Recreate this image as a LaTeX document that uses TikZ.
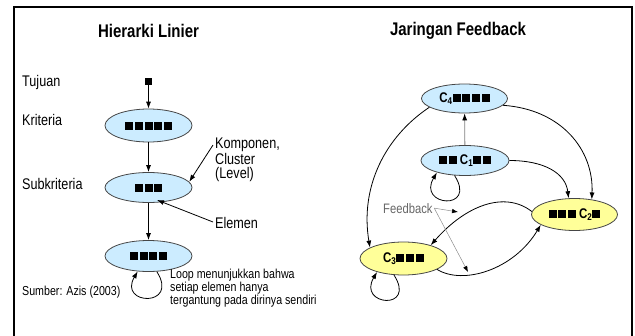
\documentclass[tikz,border=0pt]{standalone}
\usepackage{fontspec}
\setmainfont{Liberation Sans}[FakeStretch=0.82]
\usetikzlibrary{shapes.geometric,arrows.meta}
\definecolor{clusterBlue}{RGB}{204,236,255}
\definecolor{clusterYellow}{RGB}{255,255,153}
\definecolor{outlineGray}{RGB}{70,70,70}
\newcommand{\titleFont}{\fontsize{18.3}{18.3}\selectfont\bfseries}
\newcommand{\labelFont}{\fontsize{15.4}{14}\selectfont}
\newcommand{\noteFont}{\fontsize{13}{10.2}\selectfont}
\newcommand{\feedbackFont}{\fontsize{13.7}{13.7}\selectfont}
\newcommand{\clusterFont}{\fontsize{14}{14}\selectfont\bfseries}
\newcommand{\blk}{\rule{8pt}{8pt}}
\newcommand{\blks}[1]{\blk\foreach \k in {2,...,#1}{\hspace{1.7pt}\blk}}
\tikzset{
  cluster/.style = {ellipse, draw=outlineGray, line width=0.8pt, fill=clusterBlue,
    inner sep=0pt, minimum width=87pt, minimum height=31pt, font=\clusterFont},
  feedbackCluster/.style = {cluster, fill=clusterYellow},
  sideLabel/.style = {anchor=base west, inner sep=0pt, font=\labelFont},
  titleText/.style = {anchor=base, inner sep=0pt, font=\titleFont},
  link/.style = {-{Latex[length=7pt,width=5pt]}, line width=0.8pt},
  grayLink/.style = {-{Latex[length=7pt,width=5pt,color=black]}, draw=black!50, line width=0.8pt},
  pointer/.style = {-{Latex[length=6pt,width=4.5pt,color=black]}, draw=black!45, line width=0.5pt},
}
\newcommand{\selfLoop}[2]{\draw[link] (#1) .. controls +(23,-36) and +(-20,-34) .. (#2);}

\begin{document}
\begin{tikzpicture}[x=1pt, y=1pt]
  \useasboundingbox (0,0) rectangle (635,-335);
  \draw[line width=1.5pt] (14,-337) -- (14,-7) -- (632,-7) -- (632,-337);

  % Hierarki Linier
  \node[titleText] (titleLeft) at (148.5,-37) {Hierarki Linier};
  \node[sideLabel] (tujuanLabel) at (22,-86) {Tujuan};
  \node[sideLabel] (kriteriaLabel) at (22,-125) {Kriteria};
  \node[sideLabel] (subkriteriaLabel) at (22,-189) {Subkriteria};
  \node[sideLabel, font=\noteFont] (sumberLabel) at (22,-295) {Sumber: Azis (2003)};

  \node[fill=black, inner sep=0pt, minimum size=7.5pt] (goal) at (148.5,-81.5) {};
  \node[cluster, minimum height=33pt] (kriteria) at (148.5,-125.5) {\blks{5}};
  \node[cluster, minimum height=30pt] (subkriteria) at (148.5,-187.5) {\blks{3}};
  \node[cluster] (lower) at (148.5,-256) {\blks{4}};

  \draw[link] (goal) -- (kriteria);
  \draw[link] (kriteria) -- (subkriteria);
  \draw[link] (subkriteria) -- (lower);
  \selfLoop{lower.-62}{lower.235}

  \node[sideLabel, align=left] (komponen) at (215,-178) {Komponen,\\Cluster\\(Level)};
  \coordinate (komponenTail) at (213,-145);
  \draw[link] (komponenTail) -- (subkriteria.8);
  \node[sideLabel] (elemen) at (215,-228) {Elemen};
  \coordinate (elemenTail) at (213,-222);
  \coordinate (elemenTip) at (157,-200);
  \draw[link] (elemenTail) -- (elemenTip);
  \node[sideLabel, font=\noteFont, align=left] (loopNote) at (170,-304.5)
    {Loop menunjukkan bahwa\\setiap elemen hanya\\tergantung pada dirinya sendiri};

  % Jaringan Feedback
  \node[titleText] (titleRight) at (458,-35) {Jaringan Feedback};
  \node[cluster, minimum width=86pt, minimum height=29pt] (cfour) at (464.5,-98.5) {C\textsubscript{4}\blks{4}};
  \node[cluster, minimum width=88pt, minimum height=30pt] (cone) at (465,-160.5) {\blks{2} C\textsubscript{1}\blks{2}};
  \node[feedbackCluster, minimum width=86pt, minimum height=32pt] (ctwo) at (574.5,-214.5) {\blks{3} C\textsubscript{2}\blk};
  \node[feedbackCluster, minimum height=33pt] (cthree) at (403.5,-258.5) {C\textsubscript{3}\blks{3}};

  \draw[grayLink] (cone) -- (cfour);
  \draw[link] (cfour.194) .. controls +(-45,-30) and +(-10,60) .. (cthree.162);
  \draw[link] (cfour.-10) .. controls +(58,-4) and +(2,50) .. (ctwo.41);
  \draw[link] (cone.east) .. controls +(35,0) and +(-3,25) .. (ctwo.110);
  \draw[link] (ctwo.176) .. controls +(-27,21) and +(35,40) .. (cthree.26);
  \draw[link] (cthree.-18) .. controls +(26,-16) and +(-27,-45) .. (ctwo.197);
  \selfLoop{cone.235}{cone.203}
  \selfLoop{cthree.240}{cthree.207}

  \node[sideLabel, font=\feedbackFont, text=black!60] (feedback) at (383,-213) {Feedback};
  \coordinate (feedbackTipA) at (458,-212);
  \coordinate (feedbackTipB) at (468,-272);
  \draw[pointer] ([xshift=1.5pt]feedback.east) -- (feedbackTipA);
  \draw[pointer] ([xshift=1.5pt]feedback.east) -- (feedbackTipB);
\end{tikzpicture}
\end{document}
